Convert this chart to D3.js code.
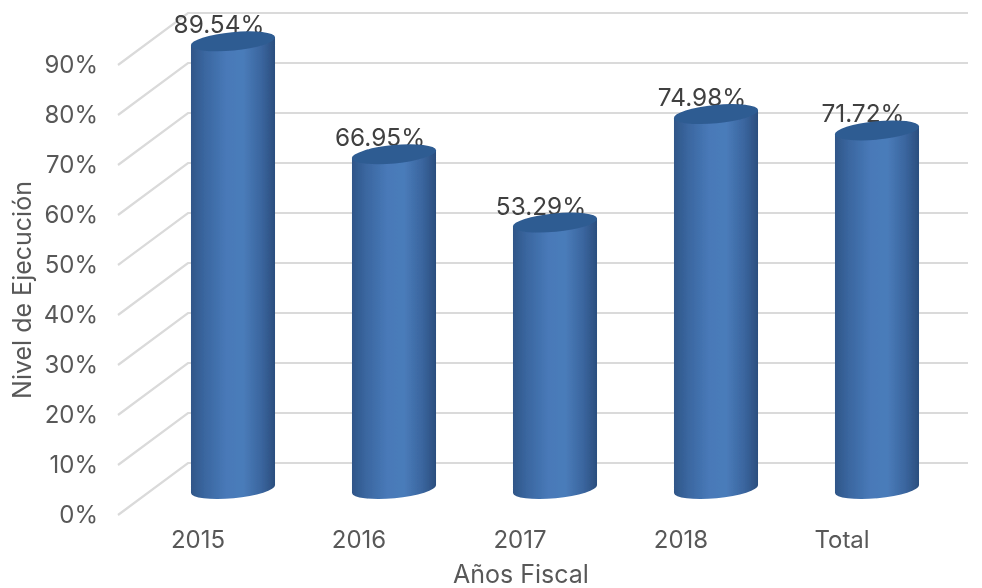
<!DOCTYPE html>
<html><head><meta charset="utf-8">
<style>html,body{margin:0;padding:0;background:#fff}svg{display:block}text{font-family:Inter,"Noto Sans",sans-serif}</style>
<script src="https://d3js.org/d3.v7.min.js"></script>
</head><body><svg id="c" width="982" height="588"></svg>
<script>
const categories = ["2015","2016","2017","2018","Total"];
const values = [89.54,66.95,53.29,74.98,71.72];
const labels = ["89.54%","66.95%","53.29%","74.98%","71.72%"];
const yTicks = [0,10,20,30,40,50,60,70,80,90];
const yTitle = "Nivel de Ejecución";
const xTitle = "Años Fiscal";

const svg = d3.select("#c");
const defs = svg.append("defs");
const grad = defs.append("linearGradient").attr("id","body");
[[0,"#2f5688"],[0.16,"#3a669f"],[0.42,"#4879b8"],[0.62,"#4a7cba"],[0.84,"#3a659e"],[1,"#2b4e7e"]]
  .forEach(s=>grad.append("stop").attr("offset",s[0]).attr("stop-color",s[1]));
defs.append("filter").attr("id","soft").append("feGaussianBlur").attr("stdDeviation",0.55);

const yFront = d3.scaleLinear().domain([0,90]).range([515,65]);
const depthX = 70, depthY = 52;
const yBack = v => yFront(v) - depthY;
const yMid = v => yFront(v) - depthY/2;
const x = d3.scaleBand().domain(categories).range([152.5,957.5]).paddingInner(0.478).paddingOuter(0.239);
const cx = c => x(c) + x.bandwidth()/2;
const rx = x.bandwidth()/2, ry = 9.2, rot = -5.5, tilt = 4;

const root = svg.append("g").attr("filter","url(#soft)");

// walls
root.append("g").selectAll("path").data(yTicks).join("path")
  .attr("fill","none").attr("stroke","#dadada").attr("stroke-width",2.2)
  .attr("d",v=>d3.line()([[118,yFront(v)],[118+depthX,yBack(v)],[968,yBack(v)]]));

// y axis
const ya = root.append("g").attr("transform","translate(98,0)")
  .call(d3.axisLeft(yFront).tickValues(yTicks).tickSize(0).tickPadding(0).tickFormat(d=>d+"%"));
ya.select(".domain").remove();
ya.selectAll("text").attr("fill","#595959").attr("font-size",24);

// x axis
const xa = root.append("g").attr("transform","translate(-35,531)")
  .call(d3.axisBottom(x).tickSize(0).tickPadding(0));
xa.select(".domain").remove();
xa.selectAll("text").attr("fill","#595959").attr("font-size",24);

// data labels
root.append("g").selectAll("text").data(categories).join("text")
  .attr("x",c=>cx(c)-14).attr("y",(c,i)=>yMid(values[i])-8)
  .attr("text-anchor","middle").attr("fill","#404040").attr("font-size",24.4)
  .text((c,i)=>labels[i]);

// cylinders
const bars = root.append("g").selectAll("g").data(categories).join("g");
bars.append("path").attr("fill","url(#body)").attr("d",(c,i)=>{
  const xc=cx(c), t=yMid(values[i]), b=yMid(0);
  return `M${xc-rx},${t+tilt}L${xc+rx},${t-tilt}L${xc+rx},${b-tilt}`+
         `A${rx},${ry} ${rot} 0 1 ${xc-rx},${b+tilt}Z`;
});
bars.append("ellipse").attr("fill","#2f5c92")
  .attr("cx",c=>cx(c)).attr("cy",(c,i)=>yMid(values[i]))
  .attr("rx",rx+0.3).attr("ry",ry)
  .attr("transform",(c,i)=>`rotate(${rot} ${cx(c)} ${yMid(values[i])})`);

// titles
root.append("text").attr("transform","translate(31,290) rotate(-90)")
  .attr("text-anchor","middle").attr("fill","#595959").attr("font-size",25).text(yTitle);
root.append("text").attr("x",521).attr("y",583)
  .attr("text-anchor","middle").attr("fill","#595959").attr("font-size",25).text(xTitle);
</script></body></html>
